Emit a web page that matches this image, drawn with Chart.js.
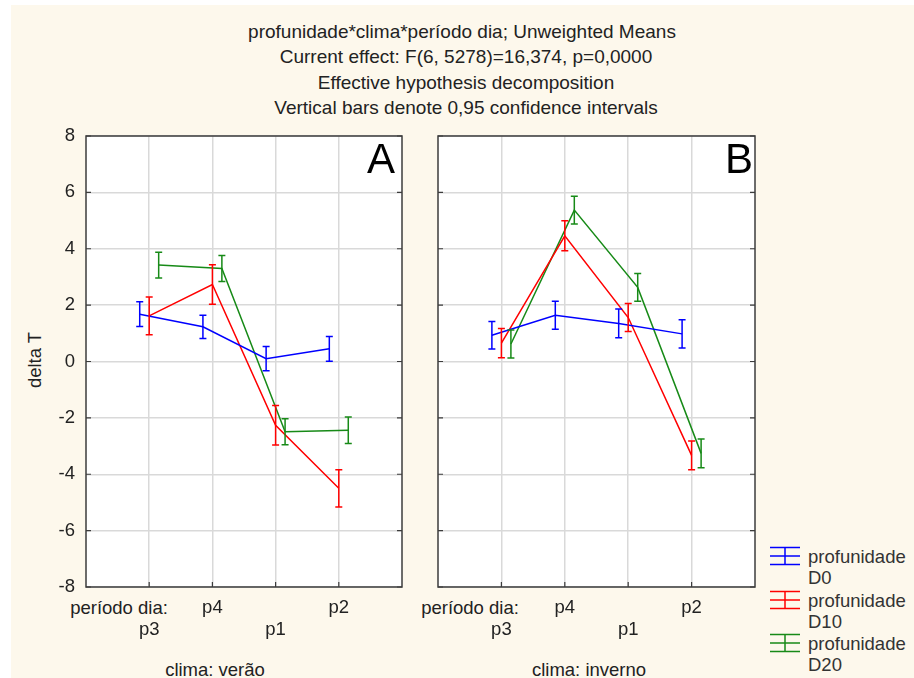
<!DOCTYPE html>
<html><head><meta charset="utf-8">
<script src="https://cdn.jsdelivr.net/npm/chart.js@4/dist/chart.umd.min.js"></script>
<style>
html,body{margin:0;padding:0;background:#fff;}
#wrap{position:relative;width:914px;height:678px;overflow:hidden;background:#fff;}
#bg{position:absolute;left:11px;top:5px;right:0;bottom:0;background:#fdf8ec;}
.t{position:absolute;font-family:"Liberation Sans",Arial,sans-serif;font-size:18.5px;color:#222;white-space:nowrap;transform:translate(-50%,-50%);line-height:1;}
.h{font-size:19px;}
.l{position:absolute;font-family:"Liberation Sans",Arial,sans-serif;font-size:18.5px;color:#333;white-space:nowrap;transform:translateY(-50%);line-height:1;}
canvas{position:absolute;top:0;}
svg{position:absolute;}
</style></head>
<body>
<div id="wrap">
<div id="bg"></div>
<div class="t h" style="left:462px;top:31px">profunidade*clima*período dia; Unweighted Means</div>
<div class="t h" style="left:466px;top:56px">Current effect: F(6, 5278)=16,374, p=0,0000</div>
<div class="t h" style="left:466px;top:82px">Effective hypothesis decomposition</div>
<div class="t h" style="left:466px;top:107px">Vertical bars denote 0,95 confidence intervals</div>
<div class="t" style="left:35px;top:360px;transform:translate(-50%,-50%) rotate(-90deg)">delta T</div>
<div class="t" style="left:119px;top:608px">período dia:</div>
<div class="t" style="left:470px;top:608px">período dia:</div>
<div class="t" style="left:215px;top:670px">clima: verão</div>
<div class="t" style="left:589px;top:670px">clima: inverno</div>
<canvas id="cA" width="420" height="678" style="left:0px"></canvas>
<canvas id="cB" width="340" height="678" style="left:420px"></canvas>
<div id="legend"></div>
</div>
<script>
// ---- data ----
const periods = ['p3', 'p4', 'p1', 'p2'];
const seriesNames = ['profunidade D0', 'profunidade D10', 'profunidade D20'];
const seriesColors = ['#0000ff', '#ff0000', '#178a17'];
// clima: verão
const veraoD0 = [1.68, 1.23, 0.10, 0.45];
const veraoD0ci = [0.44, 0.41, 0.43, 0.44];
const veraoD10 = [1.62, 2.73, -2.26, -4.50];
const veraoD10ci = [0.67, 0.70, 0.70, 0.66];
const veraoD20 = [3.42, 3.30, -2.49, -2.44];
const veraoD20ci = [0.46, 0.46, 0.46, 0.47];
// clima: inverno
const invernoD0 = [0.93, 1.64, 1.35, 0.98];
const invernoD0ci = [0.49, 0.50, 0.51, 0.50];
const invernoD10 = [0.65, 4.46, 1.56, -3.33];
const invernoD10ci = [0.52, 0.53, 0.50, 0.51];
const invernoD20 = [0.62, 5.37, 2.63, -3.26];
const invernoD20ci = [0.50, 0.49, 0.49, 0.51];
const yTicksMin = -8, yTicksMax = 8, yStep = 2;

// ---- presentation ----
const seriesOffset = [-0.15, 0, 0.15];
const FONT = '"Liberation Sans", Arial, sans-serif';

function makeDatasets(means, cis) {
  return means.map((m, s) => ({
    label: seriesNames[s],
    data: m.map((v, j) => ({ x: j + 1 + seriesOffset[s], y: v })),
    ci: cis[s],
    borderColor: seriesColors[s],
    backgroundColor: seriesColors[s],
    borderWidth: 1.5,
    pointRadius: 0,
    tension: 0,
    fill: false
  }));
}

const panelPlugin = {
  id: 'panel',
  beforeDraw(chart) {
    const a = chart.chartArea, ctx = chart.ctx;
    ctx.save();
    ctx.fillStyle = '#ffffff';
    ctx.fillRect(a.left, a.top, a.right - a.left, a.bottom - a.top);
    ctx.restore();
  },
  beforeDatasetsDraw(chart) {
    const a = chart.chartArea, ctx = chart.ctx;
    const ys = chart.scales.y, xs = chart.scales.x;
    ctx.save();
    ctx.strokeStyle = '#3c3c3c';
    ctx.lineWidth = 1.5;
    ctx.strokeRect(a.left, a.top, a.right - a.left, a.bottom - a.top);
    ctx.lineWidth = 1.2;
    ctx.beginPath();
    ys.ticks.forEach(t => {
      const p = ys.getPixelForValue(t.value);
      ctx.moveTo(a.left, p); ctx.lineTo(a.left + 5, p);
      ctx.moveTo(a.right, p); ctx.lineTo(a.right - 5, p);
    });
    xs.ticks.forEach(t => {
      const p = xs.getPixelForValue(t.value);
      ctx.moveTo(p, a.bottom); ctx.lineTo(p, a.bottom - 5);
    });
    ctx.stroke();
    ctx.restore();
  },
  afterDatasetsDraw(chart, args, opts) {
    const ctx = chart.ctx, ys = chart.scales.y, a = chart.chartArea;
    ctx.save();
    chart.data.datasets.forEach((ds, i) => {
      const meta = chart.getDatasetMeta(i);
      ctx.strokeStyle = ds.borderColor;
      ctx.lineWidth = 1.5;
      meta.data.forEach((pt, j) => {
        const v = ds.data[j].y, c = ds.ci[j];
        const hi = ys.getPixelForValue(v + c), lo = ys.getPixelForValue(v - c);
        const x = pt.x;
        ctx.beginPath();
        ctx.moveTo(x, hi); ctx.lineTo(x, lo);
        ctx.moveTo(x - 3.5, hi); ctx.lineTo(x + 3.5, hi);
        ctx.moveTo(x - 3.5, lo); ctx.lineTo(x + 3.5, lo);
        ctx.stroke();
      });
    });
    ctx.fillStyle = '#000';
    ctx.font = '42px ' + FONT;
    ctx.textAlign = 'right';
    ctx.textBaseline = 'alphabetic';
    ctx.fillText(opts.letter, a.right - opts.letterRight, a.top + 37);
    ctx.restore();
  }
};

function makeChart(id, means, cis, letter, showY, yWidth, padRight, letterRight) {
  return new Chart(document.getElementById(id), {
    type: 'line',
    data: { datasets: makeDatasets(means, cis) },
    options: {
      responsive: false,
      animation: false,
      devicePixelRatio: 1,
      layout: { padding: { left: 0, top: 136, right: padRight, bottom: 0 } },
      plugins: {
        legend: { display: false },
        tooltip: { enabled: false },
        panel: { letter: letter, letterRight: letterRight }
      },
      scales: {
        x: {
          type: 'linear',
          min: 0, max: periods.length + 1,
          afterBuildTicks: s => { s.ticks = periods.map((p, i) => ({ value: i + 1 })); },
          afterFit: s => { s.height = 91; },
          grid: { color: '#d9d9d9', lineWidth: 1.5, drawTicks: false },
          border: { display: false },
          ticks: {
            padding: 10,
            maxRotation: 0,
            autoSkip: false,
            color: '#222',
            font: { family: FONT, size: 18.5, lineHeight: 1.2 },
            callback: v => {
              const i = Math.round(v) - 1;
              return i % 2 === 0 ? ['', periods[i]] : [periods[i], ''];
            }
          }
        },
        y: {
          min: yTicksMin, max: yTicksMax,
          afterFit: s => { s.width = yWidth; },
          grid: { color: '#d9d9d9', lineWidth: 1.5, drawTicks: false },
          border: { display: false },
          ticks: {
            display: showY,
            stepSize: yStep,
            padding: 11,
            color: '#222',
            font: { family: FONT, size: 18.5 }
          }
        }
      }
    },
    plugins: [panelPlugin]
  });
}

makeChart('cA', [veraoD0, veraoD10, veraoD20], [veraoD0ci, veraoD10ci, veraoD20ci], 'A', true, 86, 18, 7);
makeChart('cB', [invernoD0, invernoD10, invernoD20], [invernoD0ci, invernoD10ci, invernoD20ci], 'B', false, 18, 5, 2);

// legend
const legendCenters = [556, 600, 643];
const lg = document.getElementById('legend');
seriesNames.forEach((name, s) => {
  const cy = legendCenters[s];
  const parts = name.split(' ');
  const c = seriesColors[s];
  lg.insertAdjacentHTML('beforeend',
    `<svg width="32" height="20" style="left:769px;top:${cy - 10}px">
      <g stroke="${c}" stroke-width="1.5" fill="none">
      <line x1="1" y1="1.5" x2="31" y2="1.5"/><line x1="1" y1="10" x2="31" y2="10"/>
      <line x1="1" y1="18.5" x2="31" y2="18.5"/><line x1="16" y1="1.5" x2="16" y2="18.5"/></g></svg>
     <div class="l" style="left:808px;top:${cy + 1}px">${parts[0]}</div>
     <div class="l" style="left:808px;top:${cy + 22}px">${parts[1]}</div>`);
});
</script>
</body></html>
